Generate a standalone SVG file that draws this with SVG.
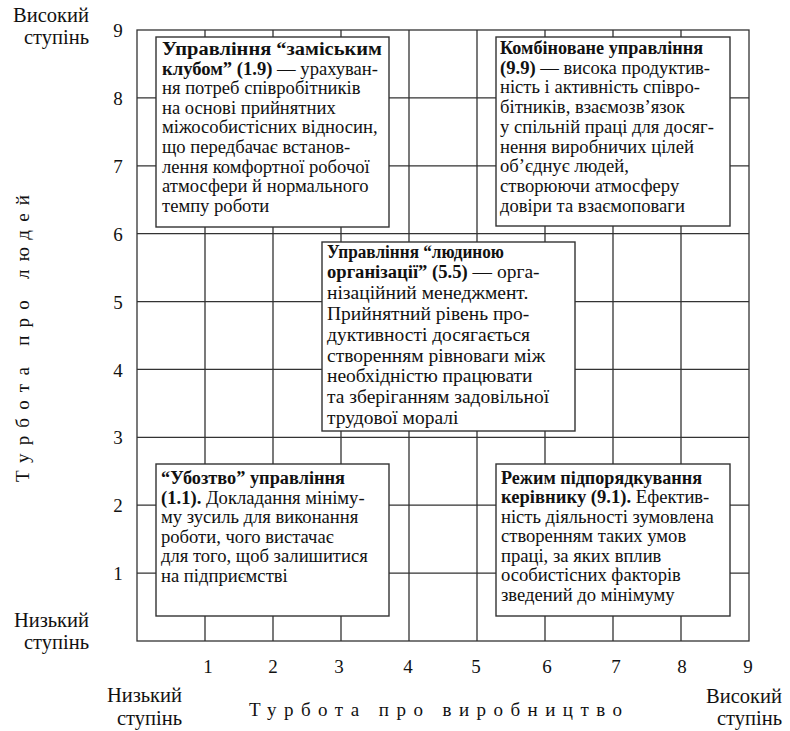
<svg xmlns="http://www.w3.org/2000/svg" width="790" height="731" viewBox="0 0 790 731">
<style>
text{font-family:"Liberation Serif","Times New Roman",serif;fill:#111;}
.t{font-size:18.6px;}
.t3{font-size:19.5px;}
.b{font-weight:bold;}
.bs{font-size:18.6px;}
.n{font-size:19px;}
.lab{font-size:20.5px;}
.ttl{font-size:19px;}
.g{stroke:#333;stroke-width:1.3;fill:none;}
.box{fill:#fff;stroke:#333;stroke-width:1.4;}
</style>
<rect width="790" height="731" fill="#fff"/>
<g id="grid" class="g">
<rect x="137" y="30" width="612" height="611"/>
<path d="M205 30V641M273 30V641M341 30V641M409 30V641M477 30V641M545 30V641M613 30V641M681 30V641"/>
<path d="M137 97.9H749M137 165.8H749M137 233.7H749M137 301.6H749M137 369.4H749M137 437.3H749M137 505.2H749M137 573.1H749"/>
</g>
<g id="y-ticks" class="n" text-anchor="middle">
<text x="118" y="37">9</text>
<text x="118" y="105">8</text>
<text x="118" y="173">7</text>
<text x="118" y="241">6</text>
<text x="118" y="309">5</text>
<text x="118" y="377">4</text>
<text x="118" y="444">3</text>
<text x="118" y="512">2</text>
<text x="118" y="580">1</text>
</g>
<g id="x-ticks" class="n" text-anchor="middle">
<text x="208" y="673">1</text>
<text x="273" y="673">2</text>
<text x="339" y="673">3</text>
<text x="408" y="673">4</text>
<text x="476" y="673">5</text>
<text x="547" y="673">6</text>
<text x="616" y="673">7</text>
<text x="682" y="673">8</text>
<text x="748" y="673">9</text>
</g>
<g id="axis-labels" class="lab" text-anchor="end">
<text x="89" y="22">Високий</text>
<text x="89" y="44">ступінь</text>
<text x="89" y="627">Низький</text>
<text x="89" y="649">ступінь</text>
<text x="182" y="702">Низький</text>
<text x="182" y="725">ступінь</text>
<text x="782" y="703">Високий</text>
<text x="782" y="725">ступінь</text>
</g>
<g id="axis-titles" class="ttl">
<text x="249" y="716" textLength="373" lengthAdjust="spacing">Турбота про виробництво</text>
<text transform="translate(29,482) rotate(-90)" x="0" y="0" textLength="287" lengthAdjust="spacing">Турбота про людей</text>
</g>
<g id="box-1-9">
<rect class="box" x="156" y="37" width="233" height="190"/>
<text class="t">
<tspan x="162" y="55" class="b" textLength="220" lengthAdjust="spacingAndGlyphs">Управління “заміським</tspan>
<tspan x="162" y="74.6"><tspan class="b">клубом” (1.9)</tspan> — урахуван-</tspan>
<tspan x="162" y="94.2">ня потреб співробітників</tspan>
<tspan x="162" y="113.8">на основі прийнятних</tspan>
<tspan x="162" y="133.4">міжособистісних відносин,</tspan>
<tspan x="162" y="153">що передбачає встанов-</tspan>
<tspan x="162" y="172.6">лення комфортної робочої</tspan>
<tspan x="162" y="192.2">атмосфери й нормального</tspan>
<tspan x="162" y="211.8">темпу роботи</tspan>
</text>
</g>
<g id="box-9-9">
<rect class="box" x="496" y="37" width="234" height="189"/>
<text class="t">
<tspan x="500" y="54" class="b" textLength="203" lengthAdjust="spacingAndGlyphs">Комбіноване управління</tspan>
<tspan x="500" y="73.7"><tspan class="b">(9.9)</tspan> — висока продуктив-</tspan>
<tspan x="500" y="93.4">ність і активність співро-</tspan>
<tspan x="500" y="113.1">бітників, взаємозв’язок</tspan>
<tspan x="500" y="132.8">у спільній праці для досяг-</tspan>
<tspan x="500" y="152.5">нення виробничих цілей</tspan>
<tspan x="500" y="172.2">об’єднує людей,</tspan>
<tspan x="500" y="191.9">створюючи атмосферу</tspan>
<tspan x="500" y="211.6">довіри та взаємоповаги</tspan>
</text>
</g>
<g id="box-5-5">
<rect class="box" x="322" y="242" width="253" height="189"/>
<text class="t3">
<tspan x="327" y="257.5" class="b bs" textLength="177" lengthAdjust="spacingAndGlyphs">Управління “людиною</tspan>
<tspan x="327" y="278.3"><tspan class="b bs">організації” (5.5)</tspan> — орга-</tspan>
<tspan x="327" y="299.1">нізаційний менеджмент.</tspan>
<tspan x="327" y="319.9">Прийнятний рівень про-</tspan>
<tspan x="327" y="340.7">дуктивності досягається</tspan>
<tspan x="327" y="361.5">створенням рівноваги між</tspan>
<tspan x="327" y="382.3">необхідністю працювати</tspan>
<tspan x="327" y="403.1">та зберіганням задовільної</tspan>
<tspan x="327" y="423.9">трудової моралі</tspan>
</text>
</g>
<g id="box-1-1">
<rect class="box" x="156" y="464" width="233" height="152"/>
<text class="t">
<tspan x="161" y="484.3" class="b" textLength="184" lengthAdjust="spacingAndGlyphs">“Убозтво” управління</tspan>
<tspan x="161" y="503.8"><tspan class="b">(1.1).</tspan> Докладання мініму-</tspan>
<tspan x="161" y="523.3">му зусиль для виконання</tspan>
<tspan x="161" y="542.8">роботи, чого вистачає</tspan>
<tspan x="161" y="562.3">для того, щоб залишитися</tspan>
<tspan x="161" y="581.8">на підприємстві</tspan>
</text>
</g>
<g id="box-9-1">
<rect class="box" x="496" y="464" width="234" height="152"/>
<text class="t">
<tspan x="501" y="483.5" class="b" textLength="201" lengthAdjust="spacingAndGlyphs">Режим підпорядкування</tspan>
<tspan x="501" y="503"><tspan class="b">керівнику (9.1).</tspan> Ефектив-</tspan>
<tspan x="501" y="522.5">ність діяльності зумовлена</tspan>
<tspan x="501" y="542">створенням таких умов</tspan>
<tspan x="501" y="561.5">праці, за яких вплив</tspan>
<tspan x="501" y="581">особистісних факторів</tspan>
<tspan x="501" y="600.5">зведений до мінімуму</tspan>
</text>
</g>
</svg>
